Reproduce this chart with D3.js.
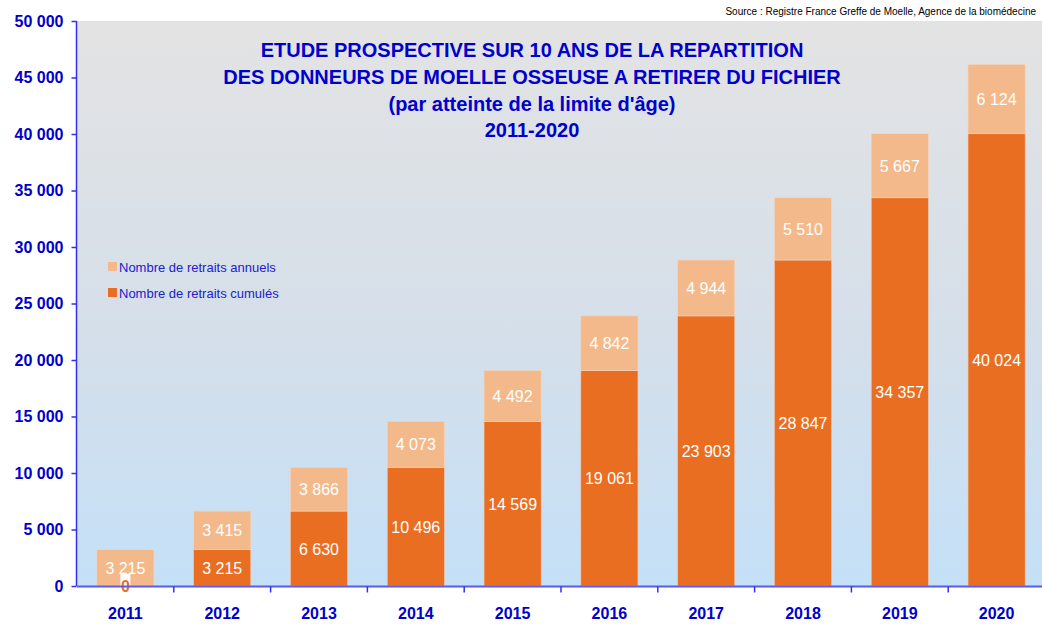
<!DOCTYPE html>
<html>
<head>
<meta charset="utf-8">
<script src="https://cdn.jsdelivr.net/npm/d3@7"></script>
<style>
    body { margin: 0; background: #ffffff; }
    svg { display: block; font-family: "Liberation Sans", Arial, sans-serif; }
</style>
</head>
<body>
<svg id="chart" width="1042" height="624"></svg>
<script>
// values
var years = ["2011", "2012", "2013", "2014", "2015", "2016", "2017", "2018", "2019", "2020"];
var cumules = [0, 3215, 6630, 10496, 14569, 19061, 23903, 28847, 34357, 40024];
var annuels = [3215, 3415, 3866, 4073, 4492, 4842, 4944, 5510, 5667, 6124];
var yTicks = [0, 5000, 10000, 15000, 20000, 25000, 30000, 35000, 40000, 45000, 50000];
var titleLines = [
    "ETUDE PROSPECTIVE SUR 10 ANS DE LA REPARTITION",
    "DES DONNEURS DE MOELLE OSSEUSE A RETIRER DU FICHIER",
    "(par atteinte de la limite d'âge)",
    "2011-2020"
];
var legendLabels = ["Nombre de retraits annuels", "Nombre de retraits cumulés"];
var sourceText = "Source : Registre France Greffe de Moelle, Agence de la biomédecine";

(function () {
    var colDark = "#e96e22";
    var colLight = "#f4b98a";
    var blue = "#0000cc";

    var svg = d3.select("#chart");
    var plotLeft = 77, plotRight = 1045, plotTop = 21, plotBottom = 586;

    var x = d3.scaleBand()
        .domain(years)
        .range([plotLeft, plotRight])
        .paddingInner(0.41)
        .paddingOuter(0.205);

    var y = d3.scaleLinear()
        .domain([0, 50000])
        .range([plotBottom, plotTop]);

    var fmt = function (v) {
        return d3.format(",")(v).replace(/,/g, " ");
    };

    // background gradient
    var defs = svg.append("defs");
    var grad = defs.append("linearGradient")
        .attr("id", "bg")
        .attr("x1", 0).attr("y1", 0).attr("x2", 0).attr("y2", 1);
    grad.append("stop").attr("offset", "0%").attr("stop-color", "#e3e3e3");
    grad.append("stop").attr("offset", "55%").attr("stop-color", "#d5dfea");
    grad.append("stop").attr("offset", "100%").attr("stop-color", "#c4e0f7");

    svg.append("rect")
        .attr("x", plotLeft)
        .attr("y", plotTop)
        .attr("width", 1042 - plotLeft)
        .attr("height", plotBottom - plotTop)
        .attr("fill", "url(#bg)");

    // source
    svg.append("text")
        .attr("x", 1036)
        .attr("y", 15)
        .attr("text-anchor", "end")
        .attr("font-size", 10)
        .attr("fill", "#000")
        .text(sourceText);

    // title
    var titleY = [57, 84, 111, 137];
    svg.selectAll(".title")
        .data(titleLines)
        .enter().append("text")
        .classed("title", true)
        .attr("x", 532)
        .attr("y", function (d, i) { return titleY[i]; })
        .attr("text-anchor", "middle")
        .attr("font-size", 20)
        .attr("font-weight", "bold")
        .attr("fill", blue)
        .text(function (d) { return d; });

    // stacked bars
    var data = years.map(function (yr, i) {
        return {year: yr, cum: cumules[i], ann: annuels[i]};
    });

    svg.selectAll(".barCum")
        .data(data)
        .enter().append("rect")
        .classed("barCum", true)
        .attr("x", function (d) { return x(d.year); })
        .attr("width", x.bandwidth())
        .attr("y", function (d) { return y(d.cum); })
        .attr("height", function (d) { return y(0) - y(d.cum); })
        .attr("fill", colDark)
        .attr("stroke", "#f0c8b0")
        .attr("stroke-width", 0.6);

    svg.selectAll(".barAnn")
        .data(data)
        .enter().append("rect")
        .classed("barAnn", true)
        .attr("x", function (d) { return x(d.year); })
        .attr("width", x.bandwidth())
        .attr("y", function (d) { return y(d.cum + d.ann); })
        .attr("height", function (d) { return y(d.cum) - y(d.cum + d.ann); })
        .attr("fill", colLight)
        .attr("stroke", "#f5d4bc")
        .attr("stroke-width", 0.6);

    // labels
    svg.selectAll(".lblAnn")
        .data(data)
        .enter().append("text")
        .classed("lblAnn", true)
        .attr("x", function (d) { return x(d.year) + x.bandwidth() / 2; })
        .attr("y", function (d) { return y(d.cum + d.ann / 2) + 6; })
        .attr("text-anchor", "middle")
        .attr("font-size", 16)
        .attr("fill", "#fff")
        .text(function (d) { return fmt(d.ann); });

    svg.selectAll(".lblCum")
        .data(data.filter(function (d) { return d.cum > 0; }))
        .enter().append("text")
        .classed("lblCum", true)
        .attr("x", function (d) { return x(d.year) + x.bandwidth() / 2; })
        .attr("y", function (d) { return y(d.cum / 2) + 6; })
        .attr("text-anchor", "middle")
        .attr("font-size", 16)
        .attr("fill", "#fff")
        .text(function (d) { return fmt(d.cum); });

    // zero label (2011)
    var zero = data.filter(function (d) { return d.cum === 0; });
    svg.selectAll(".zeroBox")
        .data(zero)
        .enter().append("rect")
        .classed("zeroBox", true)
        .attr("x", function (d) { return x(d.year) + x.bandwidth() / 2 - 5; })
        .attr("y", y(0) - 12)
        .attr("width", 10)
        .attr("height", 12)
        .attr("fill", "#fff");
    svg.selectAll(".zeroLbl")
        .data(zero)
        .enter().append("text")
        .classed("zeroLbl", true)
        .attr("x", function (d) { return x(d.year) + x.bandwidth() / 2; })
        .attr("y", y(0) + 6)
        .attr("text-anchor", "middle")
        .attr("font-size", 16)
        .attr("font-weight", "bold")
        .attr("fill", colDark)
        .text(function (d) { return fmt(d.cum); });

    // y axis
    var yAxis = svg.append("g")
        .attr("transform", "translate(" + (plotLeft - 0.5) + ",0)")
        .call(d3.axisLeft(y).tickValues(yTicks).tickSize(5).tickPadding(8).tickFormat(fmt));
    yAxis.select(".domain")
        .attr("stroke", "#3030ee")
        .attr("stroke-width", 1.5)
        .attr("d", "M0," + plotTop + "V" + plotBottom);
    yAxis.selectAll(".tick line").attr("stroke", "#3030ee").attr("stroke-width", 1.5);
    yAxis.selectAll(".tick text")
        .attr("font-family", "'Liberation Sans', Arial, sans-serif")
        .attr("font-size", 16)
        .attr("font-weight", "bold")
        .attr("fill", blue);

    // x axis
    var xAxis = svg.append("g")
        .attr("transform", "translate(0," + (plotBottom + 0.5) + ")");
    xAxis.append("line")
        .attr("x1", plotLeft).attr("x2", 1042)
        .attr("stroke", "#5a5aee").attr("stroke-width", 2);
    var gap = (x.step() - x.bandwidth()) / 2;
    xAxis.selectAll(".xtick")
        .data(years.slice(1))
        .enter().append("line")
        .classed("xtick", true)
        .attr("x1", function (d) { return x(d) - gap; })
        .attr("x2", function (d) { return x(d) - gap; })
        .attr("y1", 0).attr("y2", 6)
        .attr("stroke", "#3030ee").attr("stroke-width", 1.5);
    xAxis.selectAll(".xlbl")
        .data(years)
        .enter().append("text")
        .classed("xlbl", true)
        .attr("x", function (d) { return x(d) + x.bandwidth() / 2; })
        .attr("y", 32)
        .attr("text-anchor", "middle")
        .attr("font-size", 16)
        .attr("font-weight", "bold")
        .attr("fill", blue)
        .text(function (d) { return d; });

    // legend
    var legend = svg.selectAll(".legend")
        .data(legendLabels)
        .enter().append("g")
        .classed("legend", true)
        .attr("transform", function (d, i) { return "translate(108," + (268 + i * 26) + ")"; });
    legend.append("rect")
        .attr("x", 0).attr("y", -6)
        .attr("width", 9).attr("height", 9)
        .attr("fill", function (d, i) { return i === 0 ? colLight : colDark; });
    legend.append("text")
        .attr("x", 11)
        .attr("y", 4)
        .attr("font-size", 13)
        .attr("fill", "#2020cc")
        .text(function (d) { return d; });
})();
</script>
</body>
</html>
